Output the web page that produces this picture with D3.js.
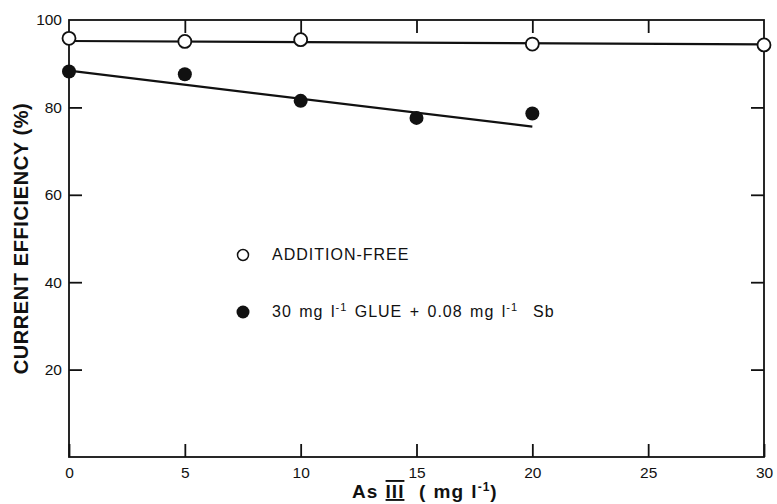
<!DOCTYPE html>
<html>
<head>
<meta charset="utf-8">
<script src="https://cdn.jsdelivr.net/npm/d3@7"></script>
<style>
  body { margin: 0; background: #fff; }
  svg { display: block; font-family: "Liberation Sans", Arial, sans-serif; }
  text { white-space: pre; }
  .tick-label { font-size: 15.5px; fill: #111; }
  .axis-title { font-size: 19px; font-weight: bold; fill: #111; }
  .legend-text { font-size: 16px; fill: #111; letter-spacing: 1px; word-spacing: 2px; }
</style>
</head>
<body>
<svg id="chart" width="777" height="504"></svg>
<script>
// Data
const xTicks = [0, 5, 10, 15, 20, 25, 30];
const yTicks = [20, 40, 60, 80, 100];

const freeX = [0, 5, 10, 20, 30];
const freeY = [95.8, 95.1, 95.5, 94.5, 94.3];
const freeFit = [[0, 95.2], [30, 94.4]];

const glueX = [0, 5, 10, 15, 20];
const glueY = [88.2, 87.6, 81.5, 77.6, 78.6];
const glueFit = [[0, 88.4], [20, 75.6]];

const svg = d3.select("#chart");

const margin = { left: 69, right: 13, top: 20, bottom: 47 };
const width = 777, height = 504;

const x = d3.scaleLinear().domain([0, 30]).range([margin.left, width - margin.right]);
const y = d3.scaleLinear().domain([0, 100]).range([height - margin.bottom, margin.top]);

const tickLen = 13;
const ink = "#111";

// Frame
svg.append("rect")
  .attr("x", x(0)).attr("y", y(100))
  .attr("width", x(30) - x(0)).attr("height", y(0) - y(100))
  .attr("fill", "none").attr("stroke", ink).attr("stroke-width", 1.8);

// Bottom axis: inward ticks, labels below
const gBottom = svg.append("g").attr("transform", `translate(0,${y(0)})`)
  .call(d3.axisBottom(x).tickValues(xTicks).tickSize(-tickLen).tickPadding(10).tickFormat(d3.format("d")));
// Top ticks hanging down
const gTop = svg.append("g").attr("transform", `translate(0,${y(100)})`)
  .call(d3.axisTop(x).tickValues(xTicks.slice(1, -1)).tickSize(-tickLen).tickFormat(""));
// Left axis
const gLeft = svg.append("g").attr("transform", `translate(${x(0)},0)`)
  .call(d3.axisLeft(y).tickValues(yTicks).tickSize(-tickLen).tickPadding(7).tickFormat(d3.format("d")));
// Right ticks pointing in
const gRight = svg.append("g").attr("transform", `translate(${x(30)},0)`)
  .call(d3.axisRight(y).tickValues(yTicks.slice(0, -1)).tickSize(-tickLen).tickFormat(""));

[gBottom, gTop, gLeft, gRight].forEach(g => {
  g.select(".domain").remove();
  g.selectAll(".tick line").attr("stroke", ink).attr("stroke-width", 1.8);
  g.selectAll(".tick text").attr("class", "tick-label").attr("font-size", null).attr("font-family", null);
});
gLeft.selectAll(".tick").filter(d => d === 100).select("line").remove();

// Fit lines
const line = d3.line().x(d => x(d[0])).y(d => y(d[1]));
[freeFit, glueFit].forEach(fit => {
  svg.append("path").attr("d", line(fit))
    .attr("fill", "none").attr("stroke", ink).attr("stroke-width", 2.2);
});

// Points
const r = 6.5;
svg.append("g").selectAll("circle")
  .data(glueX.map((v, i) => [v, glueY[i]]))
  .join("circle")
  .attr("cx", d => x(d[0])).attr("cy", d => y(d[1])).attr("r", r + 0.5)
  .attr("fill", ink);
svg.append("g").selectAll("circle")
  .data(freeX.map((v, i) => [v, freeY[i]]))
  .join("circle")
  .attr("cx", d => x(d[0])).attr("cy", d => y(d[1])).attr("r", r)
  .attr("fill", "#fff").attr("stroke", ink).attr("stroke-width", 1.8);

// Legend
const lg = svg.append("g").attr("transform", "translate(243,0)");
lg.append("circle").attr("cx", 0).attr("cy", 255).attr("r", 5.5)
  .attr("fill", "#fff").attr("stroke", ink).attr("stroke-width", 1.5);
lg.append("text").attr("class", "legend-text").attr("x", 29).attr("y", 260)
  .text("ADDITION-FREE");
lg.append("circle").attr("cx", 0).attr("cy", 312).attr("r", 6.5).attr("fill", ink);
const t2 = lg.append("text").attr("class", "legend-text").attr("x", 29).attr("y", 317);
t2.append("tspan").text("30 mg l");
t2.append("tspan").attr("dy", -6).attr("font-size", 11).text("-1");
t2.append("tspan").attr("dy", 6).text(" GLUE + 0.08 mg l");
t2.append("tspan").attr("dy", -6).attr("font-size", 11).text("-1");
t2.append("tspan").attr("dy", 6).text("  Sb");

// Axis titles
const xt = svg.append("text").attr("class", "axis-title")
  .attr("x", 352).attr("y", 498)
  .attr("letter-spacing", 1).attr("word-spacing", 1);
xt.append("tspan").text("As ");
xt.append("tspan").attr("text-decoration", "underline overline").text("III");
xt.append("tspan").text("  ( mg l");
xt.append("tspan").attr("dy", -7).attr("font-size", 12).text("-1");
xt.append("tspan").attr("dy", 7).text(")");

svg.append("text").attr("class", "axis-title")
  .attr("transform", `translate(28,238.5) rotate(-90)`)
  .attr("text-anchor", "middle")
  .style("font-size", "20px")
  .style("letter-spacing", "0.6px")
  .text("CURRENT EFFICIENCY (%)");
</script>
</body>
</html>
